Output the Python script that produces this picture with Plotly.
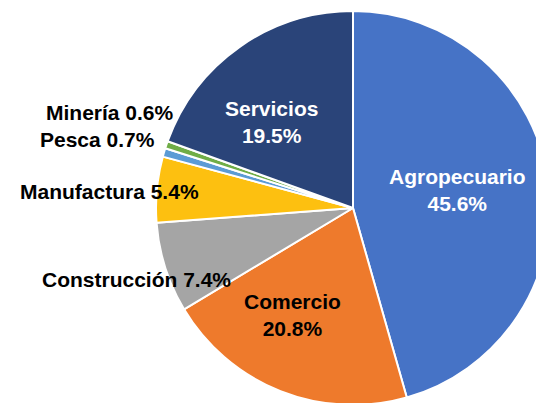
import plotly.graph_objects as go

# ---- data ----
sectors = ["Agropecuario", "Comercio", "Construcción", "Manufactura", "Pesca", "Minería", "Servicios"]
shares = [45.6, 20.8, 7.4, 5.4, 0.7, 0.6, 19.5]
colors = ["#4673C6", "#EE7A2C", "#A5A5A5", "#FDC010", "#5B9BD5", "#70AD47", "#2A4479"]

# ---- layout constants ----
W, H = 556, 410
cx, cy, r = 353, 208, 197  # pixel centre and radius of pie

fig = go.Figure(go.Pie(
    labels=sectors,
    values=shares,
    sort=False,
    direction="clockwise",
    rotation=0,
    marker=dict(colors=colors, line=dict(color="white", width=2)),
    textinfo="none",
    hoverinfo="label+percent",
    domain=dict(x=[(cx - r) / W, (cx + r) / W], y=[(H - (cy + r)) / H, (H - (cy - r)) / H]),
    showlegend=False,
))

# label placement (pixel coords of text centre / anchor), style
label_style = {
    "Agropecuario": dict(x=457, y=190, inside=True, color="white", xanchor="center"),
    "Comercio": dict(x=292, y=315, inside=True, color="black", xanchor="center"),
    "Construcción": dict(x=233, y=279, inside=False, color="black", xanchor="right"),
    "Manufactura": dict(x=201, y=191, inside=False, color="black", xanchor="right"),
    "Pesca": dict(x=157, y=139, inside=False, color="black", xanchor="right"),
    "Minería": dict(x=176, y=112, inside=False, color="black", xanchor="right"),
    "Servicios": dict(x=271, y=122, inside=True, color="white", xanchor="center"),
}

for name, val in zip(sectors, shares):
    s = label_style[name]
    sep = "<br>" if s["inside"] else " "
    fig.add_annotation(
        text=f"<b>{name}{sep}{val:.1f}%</b>",
        x=s["x"] / W, y=1 - s["y"] / H, xref="paper", yref="paper",
        xanchor=s["xanchor"], yanchor="middle", showarrow=False,
        align="center",
        font=dict(family="Liberation Sans, Arial, sans-serif", size=21, color=s["color"]),
    )

fig.update_layout(
    width=W, height=H,
    margin=dict(l=0, r=0, t=0, b=0),
    paper_bgcolor="white", plot_bgcolor="white",
)

fig.write_html(
    "out.html",
    config={"displayModeBar": False},
    post_script="document.documentElement.style.overflow='hidden';document.body.style.overflow='hidden';document.body.style.margin='0';",
)
